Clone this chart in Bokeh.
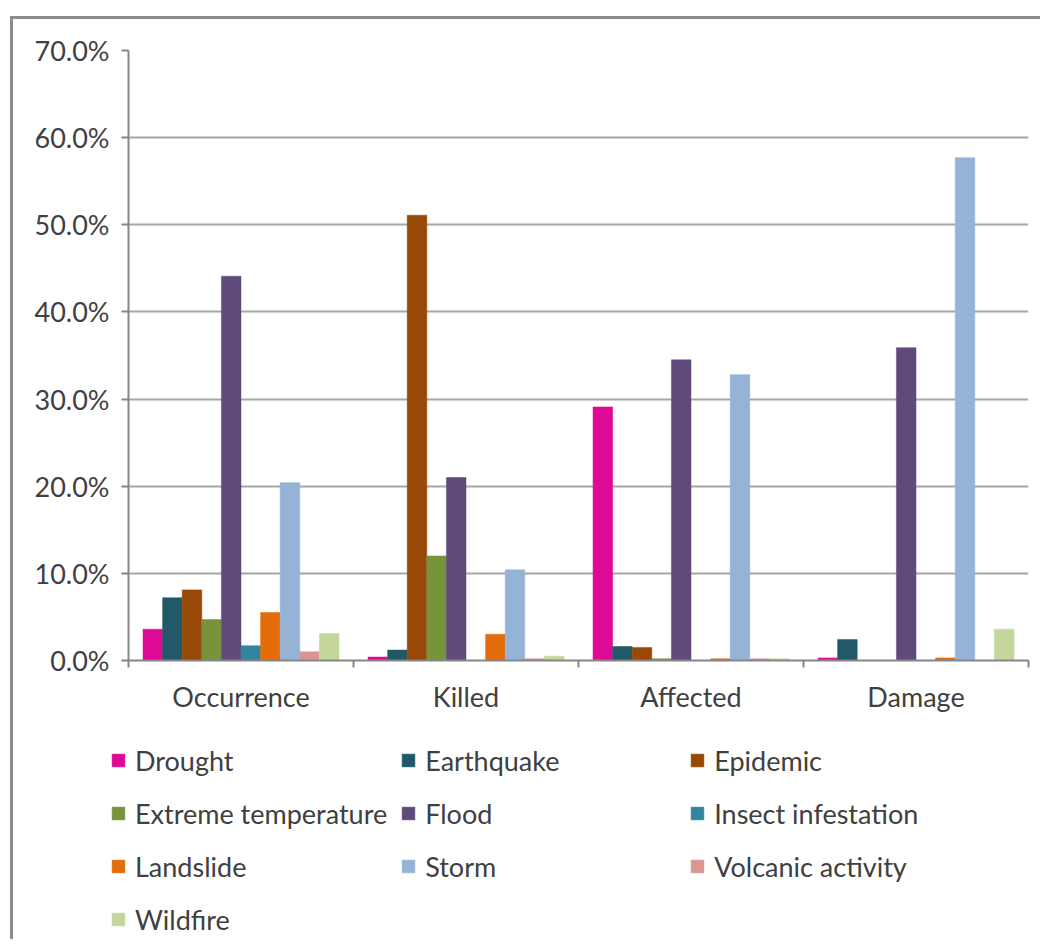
from bokeh.plotting import figure
from bokeh.models import (Range1d, FixedTicker, NumeralTickFormatter, Legend, LegendItem)
from bokeh.embed import file_html
from bokeh.resources import INLINE

categories = ["Occurrence", "Killed", "Affected", "Damage"]
series_names = ["Drought", "Earthquake", "Epidemic", "Extreme temperature", "Flood",
                "Insect infestation", "Landslide", "Storm", "Volcanic activity", "Wildfire"]
drought = [3.6, 0.4, 29.1, 0.3]
earthquake = [7.2, 1.2, 1.6, 2.4]
epidemic = [8.1, 51.1, 1.5, 0.0]
extreme_temperature = [4.7, 12.0, 0.2, 0.0]
flood = [44.1, 21.0, 34.5, 35.9]
insect_infestation = [1.7, 0.0, 0.0, 0.0]
landslide = [5.5, 3.0, 0.2, 0.3]
storm = [20.4, 10.4, 32.8, 57.7]
volcanic_activity = [1.0, 0.2, 0.2, 0.0]
wildfire = [3.1, 0.5, 0.2, 3.6]
series_values = [drought, earthquake, epidemic, extreme_temperature, flood,
                 insect_infestation, landslide, storm, volcanic_activity, wildfire]
colors = ["#DE0A96", "#215968", "#984807", "#77933C", "#604A7B",
          "#31859C", "#E46C0A", "#95B3D7", "#D99694", "#C3D69B"]
y_ticks = [0.0, 0.1, 0.2, 0.3, 0.4, 0.5, 0.6, 0.7]

FONT = "Lato"
TXT = "#404040"
FS = "27px"
BORDER = "3px solid #8c8c8c"

p = figure(width=1030, height=711, output_backend="svg", toolbar_location=None, title=None,
           x_range=Range1d(0, len(categories)), y_range=Range1d(0, 0.7),
           min_border_left=115, min_border_right=15, min_border_top=31, min_border_bottom=70,
           styles={"margin-left": "10px", "margin-top": "16px",
                   "border-left": BORDER, "border-top": BORDER})
p.outline_line_color = None
p.background_fill_color = "white"
p.border_fill_color = "white"

# legend figure (bars are drawn out of its visible range; only the legend shows)
q = figure(width=1030, height=212, output_backend="svg", toolbar_location=None, title=None,
           x_range=Range1d(0, len(categories)), y_range=Range1d(5, 6),
           x_axis_location=None, y_axis_location=None,
           min_border_left=0, min_border_right=0, min_border_top=0, min_border_bottom=0,
           styles={"margin-left": "10px", "border-left": BORDER})
q.outline_line_color = None
q.xgrid.visible = False
q.ygrid.visible = False

bw = 0.0871
n = len(series_names)
items = []
for j, (name, vals, col) in enumerate(zip(series_names, series_values, colors)):
    xs = [i + 0.5 + (j - (n - 1) / 2) * bw for i in range(len(categories))]
    tops = [v / 100 for v in vals]
    p.vbar(x=xs, top=tops, width=bw, fill_color=col, line_color=col, line_width=0.5)
    r = q.vbar(x=xs, top=tops, width=bw, fill_color=col, line_color=col, line_width=0.5)
    items.append(LegendItem(label=name, renderers=[r]))

# x axis
p.xaxis.ticker = FixedTicker(ticks=[i + 0.5 for i in range(len(categories))],
                             minor_ticks=list(range(len(categories) + 1)))
p.xaxis.major_label_overrides = {i + 0.5: c for i, c in enumerate(categories)}
p.xaxis.major_tick_out = 0
p.xaxis.major_tick_in = 0
p.xaxis.minor_tick_out = 7
p.xaxis.minor_tick_in = 0
p.xaxis.minor_tick_line_color = "#868686"
p.xaxis.minor_tick_line_width = 2
p.xaxis.axis_line_color = "#868686"
p.xaxis.axis_line_width = 2
p.xaxis.major_label_standoff = 12
p.xaxis.major_label_text_font = FONT
p.xaxis.major_label_text_font_size = FS
p.xaxis.major_label_text_color = TXT

# y axis
p.yaxis.ticker = FixedTicker(ticks=y_ticks, minor_ticks=[])
p.yaxis.formatter = NumeralTickFormatter(format="0.0%")
p.yaxis.major_tick_out = 7
p.yaxis.major_tick_in = 0
p.yaxis.minor_tick_line_color = None
p.yaxis.major_tick_line_color = "#868686"
p.yaxis.major_tick_line_width = 2
p.yaxis.axis_line_color = "#868686"
p.yaxis.axis_line_width = 2
p.yaxis.major_label_standoff = 12
p.yaxis.major_label_text_font = FONT
p.yaxis.major_label_text_font_size = FS
p.yaxis.major_label_text_color = TXT

p.xgrid.visible = False
p.ygrid.grid_line_color = "#a6a6a6"
p.ygrid.grid_line_width = 2

legend = Legend(items=items, location=(97, 0), orientation="horizontal", ncols=3,
                glyph_width=16, glyph_height=16, label_standoff=9, label_width=251,
                label_height=40, spacing=13, padding=0, margin=0,
                border_line_color=None, background_fill_alpha=0,
                label_text_font=FONT, label_text_font_size=FS, label_text_color=TXT)
q.add_layout(legend, "center")

open("out.html", "w").write(file_html([p, q], INLINE))
